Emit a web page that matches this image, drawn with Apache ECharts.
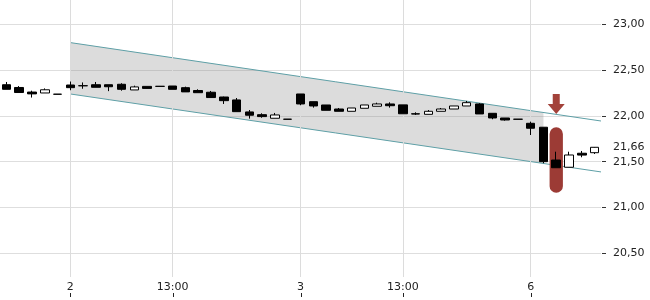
<!DOCTYPE html>
<html><head><meta charset="utf-8">
<script src="https://cdn.jsdelivr.net/npm/echarts@6/dist/echarts.min.js"></script>
<style>html,body{margin:0;padding:0;background:#fff}#c{width:650px;height:300px}</style>
</head><body><div id="c"></div>
<script>
// ---- data ----
const categories = [
  '1 15:30','1 16:00','1 16:30','1 17:00','1 17:30',
  '2 09:00','2 09:30','2 10:00','2 10:30','2 11:00','2 11:30','2 12:00','2 12:30','2 13:00','2 13:30','2 14:00','2 14:30','2 15:00','2 15:30','2 16:00','2 16:30','2 17:00','2 17:30',
  '3 09:00','3 09:30','3 10:00','3 10:30','3 11:00','3 11:30','3 12:00','3 12:30','3 13:00','3 13:30','3 14:00','3 14:30','3 15:00','3 15:30','3 16:00','3 16:30','3 17:00','3 17:30',
  '6 09:00','6 09:30','6 10:00','6 10:30','6 11:00','6 11:30'
];
// [open, close, low, high]
const candles = [
  [22.34, 22.29, 22.29, 22.37],
  [22.31, 22.255, 22.255, 22.325],
  [22.26, 22.24, 22.20, 22.275],
  [22.25, 22.285, 22.25, 22.30],
  [22.237, 22.236, 22.236, 22.237],
  [22.337, 22.308, 22.28, 22.375],
  [22.328, 22.330, 22.296, 22.365],
  [22.34, 22.312, 22.312, 22.37],
  [22.34, 22.318, 22.27, 22.34],
  [22.345, 22.29, 22.275, 22.356],
  [22.283, 22.316, 22.283, 22.33],
  [22.322, 22.30, 22.298, 22.322],
  [22.323, 22.322, 22.322, 22.323],
  [22.326, 22.29, 22.29, 22.326],
  [22.308, 22.262, 22.262, 22.319],
  [22.277, 22.253, 22.253, 22.29],
  [22.258, 22.20, 22.20, 22.272],
  [22.206, 22.166, 22.13, 22.21],
  [22.174, 22.046, 22.046, 22.195],
  [22.043, 22.007, 21.97, 22.064],
  [22.013, 21.992, 21.98, 22.028],
  [21.974, 22.01, 21.974, 22.032],
  [21.964, 21.963, 21.963, 21.964],
  [22.239, 22.13, 22.116, 22.239],
  [22.155, 22.108, 22.09, 22.155],
  [22.119, 22.061, 22.061, 22.119],
  [22.075, 22.05, 22.05, 22.086],
  [22.05, 22.086, 22.05, 22.086],
  [22.083, 22.119, 22.083, 22.119],
  [22.105, 22.13, 22.105, 22.144],
  [22.13, 22.111, 22.09, 22.148],
  [22.12, 22.023, 22.023, 22.12],
  [22.023, 22.02, 22.01, 22.039],
  [22.017, 22.05, 22.017, 22.064],
  [22.05, 22.075, 22.05, 22.086],
  [22.075, 22.108, 22.075, 22.108],
  [22.108, 22.144, 22.108, 22.163],
  [22.13, 22.021, 22.021, 22.138],
  [22.028, 21.977, 21.963, 22.028],
  [21.977, 21.955, 21.948, 21.977],
  [21.964, 21.963, 21.963, 21.964],
  [21.919, 21.865, 21.791, 21.937],
  [21.876, 21.50, 21.483, 21.876],
  [21.518, 21.434, 21.434, 21.609],
  [21.439, 21.573, 21.439, 21.609],
  [21.592, 21.572, 21.548, 21.617],
  [21.598, 21.657, 21.584, 21.66]
];
const tickCategories = ['2 09:00', '2 13:00', '3 09:00', '3 13:00', '6 09:00'];
const tickLabels = ['2', '13:00', '3', '13:00', '6'];
const yTicks = [20.5, 21.0, 21.5, 22.0, 22.5, 23.0];
const yLabels = [20.5, 21.0, 21.5, 21.66, 22.0, 22.5, 23.0];
const yMin = 20.241, yMax = 23.265;
// trend channel (x in category-index units)
const channelX = [5, 46.5];
const channelUpper = [22.80, 21.944];
const channelLower = [22.239, 21.388];
const shadeX = [5, 42];
const shadeUpper = [22.80, 22.037];
const shadeLower = [22.239, 21.48];
// marker
const markerCategory = '6 10:00';
const pillRange = [21.875, 21.16];
const arrowRange = [22.24, 22.02];

// ---- chart ----
const chart = echarts.init(document.getElementById('c'), null, {renderer: 'canvas'});
const FONT = 'DejaVu Sans';
const fmt = v => v.toFixed(2).replace('.', ',');
const labelMap = {};
tickCategories.forEach((c, i) => { labelMap[c] = tickLabels[i]; });
const tickIdx = tickCategories.map(c => categories.indexOf(c));
const markerIdx = categories.indexOf(markerCategory);
const RED = '#9c3b35';
const noLine = {show: false, onZero: false};

const option = {
  animation: false,
  grid: {left: 0, right: 49, top: 0, bottom: 23},
  xAxis: [
    {
      type: 'category', data: categories, boundaryGap: true,
      axisLine: noLine, splitLine: {show: false}, axisTick: {show: false},
      axisLabel: {
        interval: (i, v) => v in labelMap,
        formatter: v => labelMap[v] || '',
        margin: 5, color: '#222', fontSize: 11, fontFamily: FONT
      }
    },
    {type: 'value', min: -0.5, max: 46.5, show: false, axisLine: noLine}
  ],
  yAxis: [
    {
      type: 'value', position: 'right', min: yMin, max: yMax,
      axisLine: noLine, axisTick: {show: false},
      axisLabel: {customValues: yLabels, formatter: fmt, margin: 12, color: '#222', fontSize: 11, fontFamily: FONT},
      splitLine: {show: false}
    },
    {
      type: 'value', position: 'right', min: yMin, max: yMax, offset: 1,
      axisLine: noLine, axisLabel: {show: false},
      axisTick: {show: true, inside: false, length: 4, customValues: yTicks, lineStyle: {color: '#333'}},
      splitLine: {show: true, lineStyle: {color: '#dedede', width: 1}}
    }
  ],
  series: [
    {
      type: 'custom', xAxisIndex: 1, z: 1, silent: true,
      data: [[shadeX[0], shadeUpper[0]]],
      renderItem: (p, api) => {
        const pts = [
          api.coord([shadeX[0], shadeUpper[0]]),
          api.coord([shadeX[1], shadeUpper[1]]),
          api.coord([shadeX[1], shadeLower[1]]),
          api.coord([shadeX[0], shadeLower[0]])
        ];
        return {type: 'polygon', shape: {points: pts}, style: {fill: 'rgba(128,128,128,0.28)'}};
      }
    },
    {
      type: 'line', xAxisIndex: 1, z: 1, silent: true, data: [],
      markLine: {
        silent: true, symbol: ['none', 'none'], label: {show: false},
        lineStyle: {color: '#dcdcdc', width: 1, type: 'solid'},
        data: tickIdx.map(i => ({xAxis: i}))
      }
    },
    {
      type: 'line', xAxisIndex: 1, z: 2, silent: true, showSymbol: false,
      data: channelX.map((x, i) => [x, channelUpper[i]]),
      lineStyle: {color: '#5e9fa6', width: 1}
    },
    {
      type: 'line', xAxisIndex: 1, z: 2, silent: true, showSymbol: false,
      data: channelX.map((x, i) => [x, channelLower[i]]),
      lineStyle: {color: '#5e9fa6', width: 1}
    },
    {
      type: 'custom', xAxisIndex: 0, z: 3, silent: true,
      data: [[markerIdx, pillRange[0]]],
      renderItem: (p, api) => {
        const a = api.coord([markerIdx, pillRange[0]]);
        const b = api.coord([markerIdx, pillRange[1]]);
        const w = api.size([1, 0])[0] * 1.04;
        return {type: 'rect', shape: {x: a[0] - w / 2, y: a[1], width: w, height: b[1] - a[1], r: w / 2}, style: {fill: RED}};
      }
    },
    {
      type: 'custom', xAxisIndex: 0, z: 3, silent: true,
      data: [[markerIdx, arrowRange[0]]],
      renderItem: (p, api) => {
        const top = api.coord([markerIdx, arrowRange[0]]);
        const tip = api.coord([markerIdx, arrowRange[1]]);
        const x = tip[0], hh = 10, sw = 3.5, hw = 8.5;
        const pts = [
          [x - sw, top[1]], [x + sw, top[1]], [x + sw, tip[1] - hh], [x + hw, tip[1] - hh],
          [x, tip[1]], [x - hw, tip[1] - hh], [x - sw, tip[1] - hh]
        ];
        return {type: 'polygon', shape: {points: pts}, style: {fill: '#a3423a'}};
      }
    },
    {
      type: 'candlestick', xAxisIndex: 0, z: 5, silent: true,
      data: candles, barWidth: 9,
      itemStyle: {
        color: '#ffffff', color0: '#000000',
        borderColor: '#000000', borderColor0: '#000000', borderColorDoji: '#000000',
        borderWidth: 1
      }
    }
  ]
};
chart.setOption(option);

// small tick marks below the time labels, positioned through the axis scale
try {
  const yBase = chart.convertToPixel({yAxisIndex: 0}, yMin);
  const ticks = tickCategories.map(c => {
    const x = Math.round(chart.convertToPixel({xAxisIndex: 0}, c)) + 0.5;
    return {type: 'line', silent: true, z: 10,
      shape: {x1: x, y1: yBase + 16, x2: x, y2: yBase + 20},
      style: {stroke: '#222', lineWidth: 1}};
  });
  chart.setOption({graphic: ticks});
} catch (e) {}
</script>
</body></html>
